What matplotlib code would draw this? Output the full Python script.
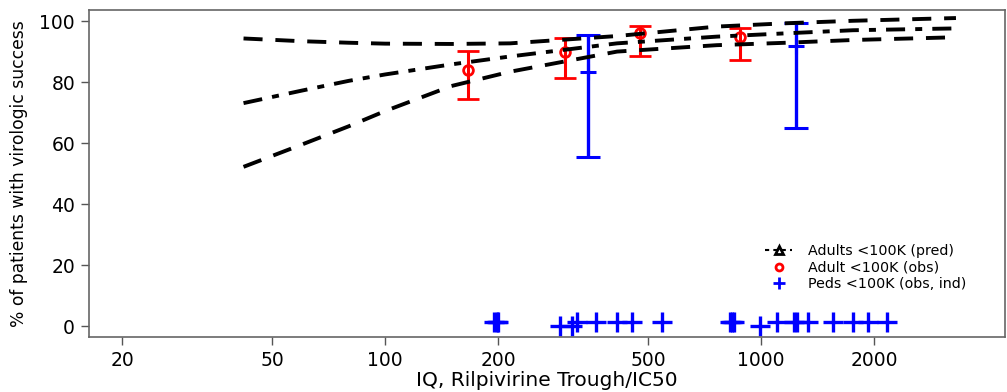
import numpy as np
import matplotlib
matplotlib.use("Agg")
import matplotlib.pyplot as plt
from matplotlib.lines import Line2D

plt.rcParams['font.family'] = ['DejaVu Sans']

# predicted curves (median + bounds)
iq_pred = [42, 60, 80, 100, 150, 215, 414, 762, 1170, 1756, 3300]
pred_upper = [94.3, 93.4, 92.9, 92.6, 92.5, 92.7, 95.1, 98.2, 99.3, 100.1, 101.0]
pred_mid = [73.1, 77.2, 80.4, 82.5, 85.8, 88.4, 92.7, 94.9, 96.0, 97.0, 97.6]
pred_lower = [52.2, 59.5, 65.5, 70.5, 78.7, 83.4, 90.0, 92.1, 92.9, 93.8, 94.7]

# adults observed
iq_adult = [166, 301, 477, 879]
adult_obs = [83.9, 89.7, 96.0, 94.7]
adult_lo = [74.6, 81.2, 88.6, 87.1]
adult_hi = [90.3, 94.3, 98.4, 97.6]

# peds observed (binned)
iq_peds = [347, 1239]
peds_obs = [83.4, 91.9]
peds_lo = [55.3, 64.9]
peds_hi = [95.6, 99.5]

# peds individual
iq_ind = [195, 198, 200, 292, 314, 324, 364, 414, 454, 545,
          828, 837, 845, 994, 1103, 1220, 1245, 1334, 1553, 1757, 1926, 2164]
ind_y = [1.4, 1.4, 1.4, 0, 0, 1.4, 1.4, 1.4, 1.4, 1.4,
         1.4, 1.4, 1.4, 0, 1.4, 1.4, 1.4, 1.4, 1.4, 1.4, 1.4, 1.4]

fig = plt.figure(figsize=(10.07, 3.92), dpi=100)
ax = fig.add_axes([89/1007, (392-337)/392, (1005-89)/1007, (337-9.5)/392])

a_err = [np.array(adult_obs) - np.array(adult_lo), np.array(adult_hi) - np.array(adult_obs)]
ax.errorbar(iq_adult, adult_obs, yerr=a_err, fmt='o', color='red', mfc='none',
            ms=7, mew=2, elinewidth=2.2, capsize=8, capthick=2.2)
p_err = [np.array(peds_obs) - np.array(peds_lo), np.array(peds_hi) - np.array(peds_obs)]
ax.errorbar(iq_peds, peds_obs, yerr=p_err, fmt='+', color='blue',
            ms=12, mew=2.2, elinewidth=2.4, capsize=8.5, capthick=2.4)

ax.plot(iq_ind, ind_y, '+', color='blue', ms=14, mew=2.4, ls='none')

# prediction lines drawn on top
ax.plot(iq_pred, pred_upper, color='black', lw=2.8, dashes=(4.9, 3.3), zorder=4)
ax.plot(iq_pred, pred_mid, color='black', lw=2.8, dashes=(4.9, 2.6, 1.8, 2.6), zorder=4)
ax.plot(iq_pred, pred_lower, color='black', lw=2.8, dashes=(4.9, 3.3), zorder=4)

ax.set_xscale('log')
ax.set_xlim(16.3, 4456)
ax.set_ylim(-3.6, 103.8)
ax.set_xticks([20, 50, 100, 200, 500, 1000, 2000])
ax.set_xticklabels(['20', '50', '100', '200', '500', '1000', '2000'])
ax.xaxis.set_minor_locator(matplotlib.ticker.NullLocator())
ax.set_yticks([0, 20, 40, 60, 80, 100])
ax.tick_params(labelsize=13.5, length=6, width=1, color='#555555', pad=4)
for s in ax.spines.values():
    s.set_color('#666666'); s.set_linewidth(1.2)

ax.set_xlabel('IQ, Rilpivirine Trough/IC50', fontsize=14.5, labelpad=1)
ax.set_ylabel('% of patients with virologic success', fontsize=12.3, labelpad=8)

handles = [
    Line2D([], [], color='black', lw=1.5, dashes=(2, 2), marker='^', mfc='none', mew=2, ms=6),
    Line2D([], [], color='red', ls='none', marker='o', mfc='none', mew=2, ms=5),
    Line2D([], [], color='blue', ls='none', marker='+', mew=2, ms=8),
]
labels = ['Adults <100K (pred)', 'Adult <100K (obs)', 'Peds <100K (obs, ind)']
ax.legend(handles, labels, loc='upper left', bbox_to_anchor=(0.738, 0.285), frameon=False,
          fontsize=10.3, handlelength=1.9, handletextpad=1.1, labelspacing=0.2,
          borderaxespad=0, borderpad=0)

fig.savefig('out.png', dpi=100)
